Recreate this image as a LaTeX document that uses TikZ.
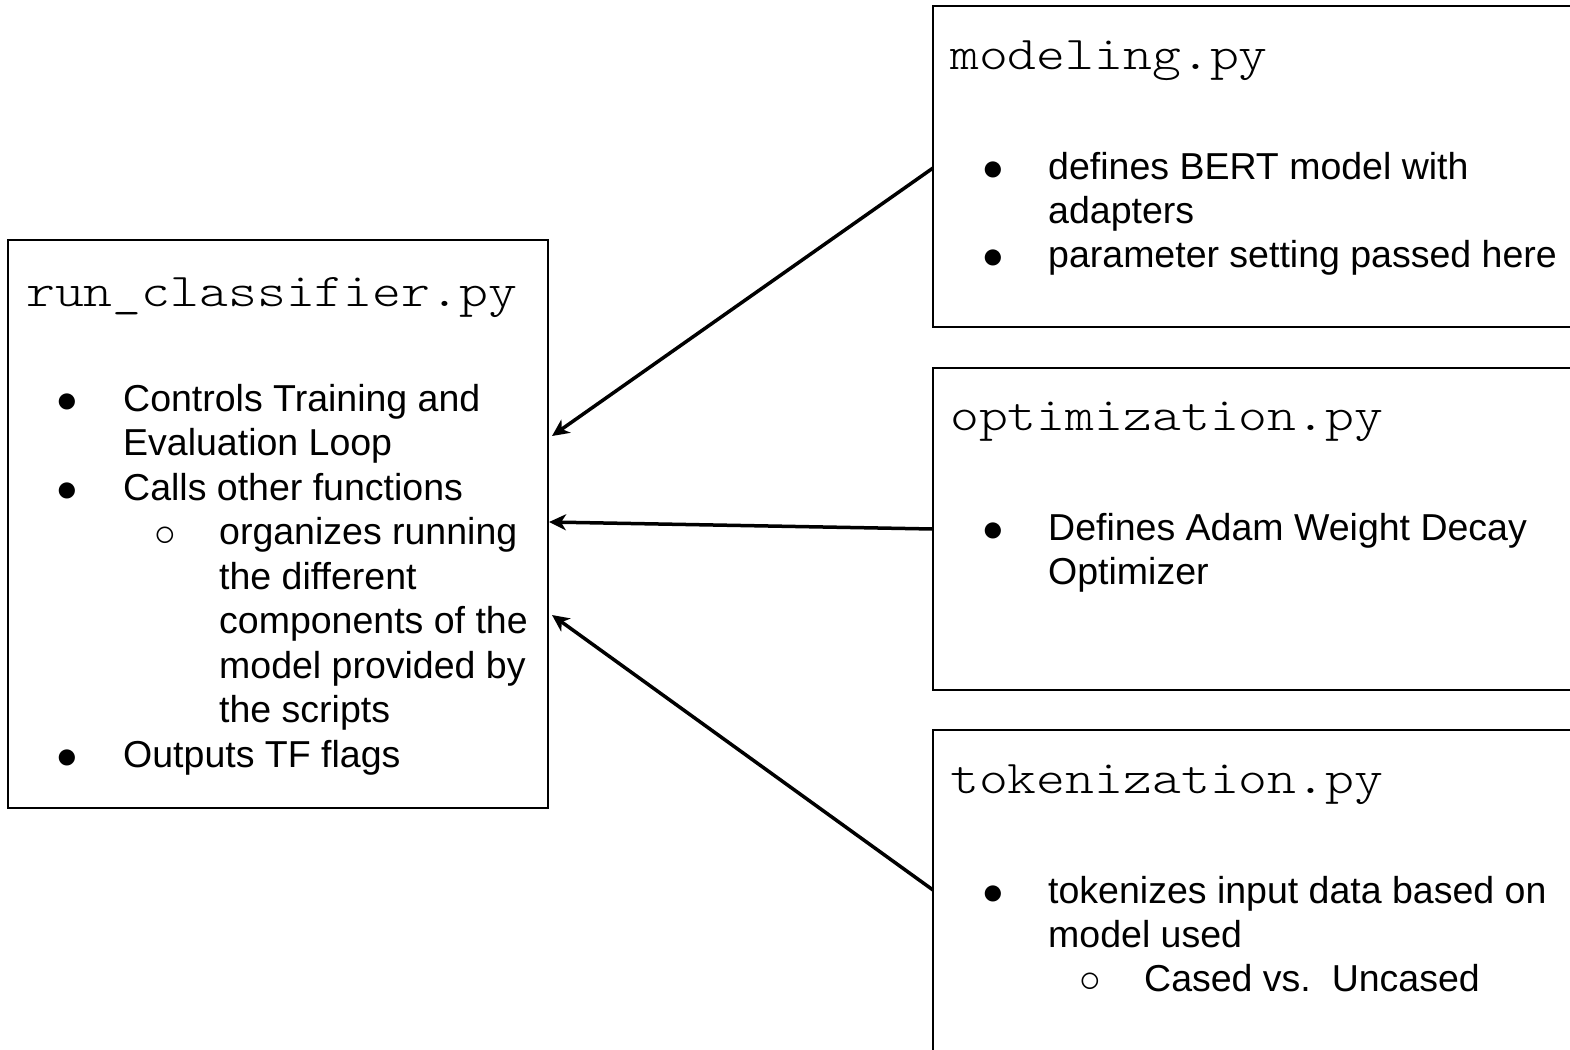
\documentclass[tikz,border=0pt]{standalone}
\usepackage{fontspec}
\setmainfont{Liberation Sans}
\newfontfamily\codefont[FakeStretch=1.17]{Latin Modern Mono Light}
\usetikzlibrary{arrows.meta,calc}

\begin{document}
\begin{tikzpicture}[x=1pt,y=-1pt,
  filebox/.style={draw=black, line width=2.2pt, rectangle, inner sep=0pt,
    outer sep=0pt, anchor=north west},
  title/.style={anchor=base west, inner sep=0pt,
    font=\codefont\fontsize{47}{56}\selectfont},
  item/.style={anchor=base west, inner sep=0pt,
    font=\fontsize{37.5}{44}\selectfont},
  dot/.style={anchor=center, inner sep=0pt,
    font=\fontsize{37.5}{44}\selectfont},
  link/.style={line width=3.5pt,
    -{Stealth[length=17pt,width=16pt,inset=5pt]}}
]
\useasboundingbox (0,0) rectangle (1570,1049);
\clip (0,0) rectangle (1570,1049);

% file boxes
\node[filebox, minimum width=540pt, minimum height=568pt] (run) at (8,240) {};
\node[filebox, minimum width=700pt, minimum height=321pt] (modeling) at (933,6) {};
\node[filebox, minimum width=700pt, minimum height=322pt] (optim) at (933,368) {};
\node[filebox, minimum width=700pt, minimum height=322pt] (token) at (933,730) {};

% run_classifier.py
\node[title] (run-t) at (26,306) {run\_classifier.py};
\node[dot]  (run-b1) at (67,403) {●};
\node[item] (run-l1) at (123,411) {Controls Training and};
\node[item] (run-l2) at (123,455.5) {Evaluation Loop};
\node[dot]  (run-b2) at (67,492) {●};
\node[item] (run-l3) at (123,500) {Calls other functions};
\node[dot]  (run-b3) at (165,536.5) {○};
\node[item] (run-l4) at (219,544.5) {organizes running};
\node[item] (run-l5) at (219,589) {the different};
\node[item] (run-l6) at (219,633.5) {components of the};
\node[item] (run-l7) at (219,678) {model provided by};
\node[item] (run-l8) at (219,722.5) {the scripts};
\node[dot]  (run-b4) at (67,759) {●};
\node[item] (run-l9) at (123,767) {Outputs TF flags};

% modeling.py
\node[title] (mod-t) at (950,70) {modeling.py};
\node[dot]  (mod-b1) at (993,171) {●};
\node[item] (mod-l1) at (1048,179) {defines BERT model with};
\node[item] (mod-l2) at (1048,223) {adapters};
\node[dot]  (mod-b2) at (993,259) {●};
\node[item] (mod-l3) at (1048,267) {parameter setting passed here};

% optimization.py
\node[title] (opt-t) at (950,430) {optimization.py};
\node[dot]  (opt-b1) at (993,532) {●};
\node[item] (opt-l1) at (1048,540) {Defines Adam Weight Decay};
\node[item] (opt-l2) at (1048,584) {Optimizer};

% tokenization.py
\node[title] (tok-t) at (950,793) {tokenization.py};
\node[dot]  (tok-b1) at (993,895) {●};
\node[item] (tok-l1) at (1048,903) {tokenizes input data based on};
\node[item] (tok-l2) at (1048,947) {model used};
\node[dot]  (tok-b2) at (1090,983) {○};
\node[item] (tok-l3) at (1144,991) {Cased vs.\ \ Uncased};

% connector end points on the box borders
\coordinate (mod-out) at (modeling.west |- 0,168);
\coordinate (opt-out) at (optim.west |- 0,529);
\coordinate (tok-out) at (token.west |- 0,890);
\coordinate (run-in1) at ($(run.east |- 0,436)+(4,0)$);
\coordinate (run-in2) at ($(run.east |- 0,522)+(1,0)$);
\coordinate (run-in3) at ($(run.east |- 0,615)+(4,0)$);

\draw[link] (mod-out) -- (run-in1);
\draw[link] (opt-out) -- (run-in2);
\draw[link] (tok-out) -- (run-in3);
\end{tikzpicture}
\end{document}
